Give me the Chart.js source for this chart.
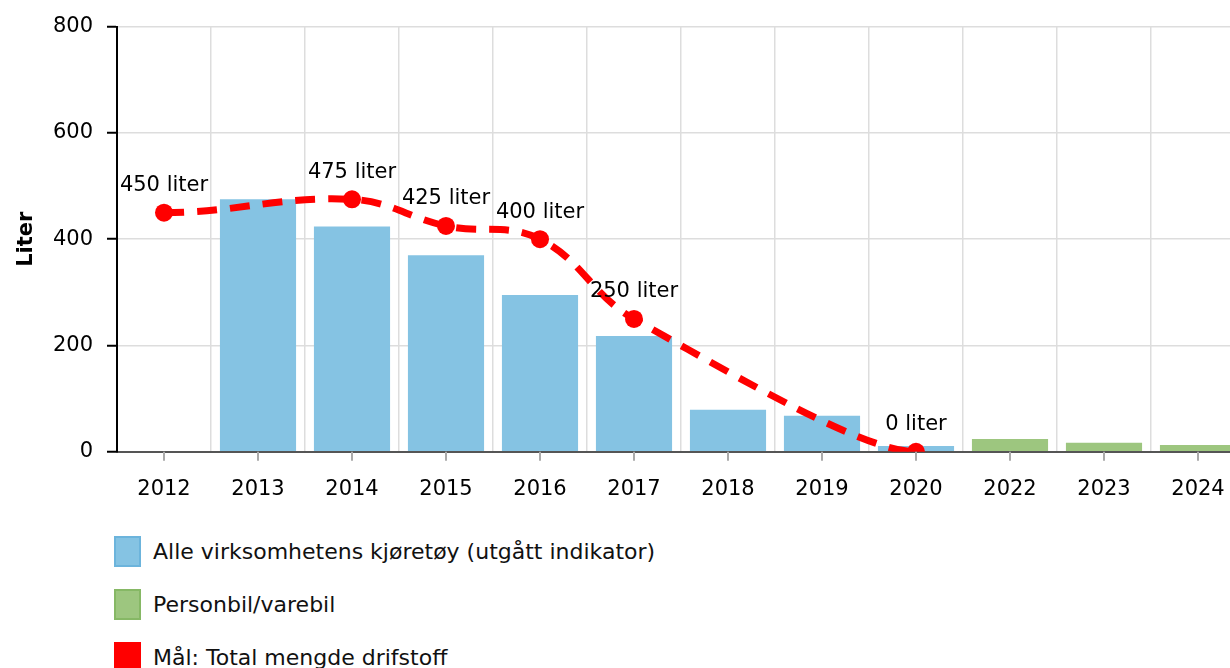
<!DOCTYPE html>
<html>
<head>
    <meta charset="utf-8">
    <script src="https://cdn.jsdelivr.net/npm/chart.js@4.4.1/dist/chart.umd.min.js"></script>
    <style>
        body { margin: 0; background: #fff; font-family: "DejaVu Sans", Verdana, sans-serif; }
        #wrap { position: relative; width: 1230px; height: 668px; overflow: hidden; }
        #chart-box { position: absolute; left: 0; top: 0; width: 1254px; height: 527px; }
        #legend { position: absolute; left: 114px; top: 536px; list-style: none; margin: 0; padding: 0; }
        #legend li { display: flex; align-items: center; height: 31px; margin-bottom: 22px; font-size: 22px; color: #111; }
        #legend .box { width: 23px; height: 27px; margin-right: 12px; border: 2px solid; }
    </style>
</head>
<body>
<div id="wrap">
    <div id="chart-box"><canvas id="c"></canvas></div>
    <ul id="legend"></ul>
</div>
<script>
    const years = ["2012", "2013", "2014", "2015", "2016", "2017", "2018", "2019", "2020", "2022", "2023", "2024"];
    const alleKjoretoy = [null, 475, 424, 370, 295, 218, 79, 68, 11, null, null, null];
    const personbil = [null, null, null, null, null, null, null, null, null, 24, 17, 13];
    const maal = [450, null, 475, 425, 400, 250, null, null, 0, null, null, null];
    const yTicks = [0, 200, 400, 600, 800];

    const blue = '#85c3e3', blueEdge = '#6cb4dc';
    const green = '#9dc67f', greenEdge = '#86b865';
    const red = '#ff0000';

    // etiketter over målpunktene
    const pointLabels = {
        id: 'pointLabels',
        afterDatasetsDraw(chart) {
            const ctx = chart.ctx;
            const meta = chart.getDatasetMeta(2);
            ctx.save();
            ctx.font = '21px "DejaVu Sans"';
            ctx.fillStyle = '#000';
            ctx.textAlign = 'center';
            ctx.textBaseline = 'middle';
            meta.data.forEach((pt, i) => {
                if (maal[i] === null) return;
                ctx.fillText(maal[i] + ' liter', pt.x, pt.y - 27);
            });
            ctx.restore();
        }
    };

    // flat tangent i start- og sluttpunkt på mållinjen
    const flatEnds = {
        id: 'flatEnds',
        beforeDatasetDraw(chart, args) {
            if (args.index !== 2) return;
            const line = args.meta.dataset;
            line.updateControlPoints(chart.chartArea, 'x');
            const pts = args.meta.data.filter(p => !p.skip);
            if (pts.length < 2) return;
            const first = pts[0], last = pts[pts.length - 1];
            first.cp2y = first.y;
            last.cp1y = last.y;
            last.cp1x = last.x - (last.x - last.cp1x) * 0.45;
            line._path = undefined;
        }
    };

    // små streker under x-aksen midt i hver kategori
    const xTickMarks = {
        id: 'xTickMarks',
        afterDraw(chart) {
            const ctx = chart.ctx, x = chart.scales.x, bottom = chart.chartArea.bottom;
            ctx.save();
            ctx.strokeStyle = '#aaa';
            ctx.lineWidth = 2;
            years.forEach((y, i) => {
                const px = Math.round(x.getPixelForValue(i));
                ctx.beginPath();
                ctx.moveTo(px, bottom);
                ctx.lineTo(px, bottom + 9);
                ctx.stroke();
            });
            ctx.restore();
        }
    };

    new Chart(document.getElementById('c'), {
        type: 'bar',
        data: {
            labels: years,
            datasets: [
                { label: 'Alle virksomhetens kjøretøy (utgått indikator)', data: alleKjoretoy, backgroundColor: blue, borderWidth: 0, categoryPercentage: 1, barPercentage: 0.81, order: 2 },
                { label: 'Personbil/varebil', data: personbil, backgroundColor: green, borderWidth: 0, categoryPercentage: 1, barPercentage: 0.81, order: 2 },
                {
                    type: 'line', label: 'Mål: Total mengde drifstoff', data: maal,
                    borderColor: red, backgroundColor: red, borderWidth: 7, borderDash: [20, 13],
                    pointRadius: 9, pointHoverRadius: 9, pointBackgroundColor: red, pointBorderWidth: 0,
                    spanGaps: true, tension: 0.4, order: 1
                }
            ]
        },
        options: {
            responsive: true,
            maintainAspectRatio: false,
            animation: false,
            layout: { padding: { top: 13, right: 0, left: 0, bottom: 0 } },
            plugins: { legend: { display: false }, tooltip: { enabled: false } },
            scales: {
                x: {
                    stacked: true,
                    grid: { color: '#dddddd', lineWidth: 1.5, offset: true, drawTicks: false },
                    border: { color: '#555', width: 2 },
                    ticks: { color: '#000', font: { size: 21, family: 'DejaVu Sans' }, padding: 25 }
                },
                y: {
                    min: 0, max: 800,
                    afterBuildTicks(s) { s.ticks = yTicks.map(v => ({ value: v })); },
                    afterFit(s) { s.width = 117; },
                    grid: { color: '#dddddd', lineWidth: 1.5, tickColor: '#000', tickLength: 10, tickWidth: 2 },
                    border: { color: '#000', width: 2 },
                    ticks: { color: '#000', font: { size: 21, family: 'DejaVu Sans' }, padding: 14 },
                    title: { display: true, text: 'Liter', color: '#000', font: { size: 21, weight: 'bold', family: 'DejaVu Sans' }, padding: { top: 14, bottom: 0 } }
                }
            }
        },
        plugins: [flatEnds, pointLabels, xTickMarks]
    });

    const legendItems = [
        { text: 'Alle virksomhetens kjøretøy (utgått indikator)', fill: blue, edge: blueEdge },
        { text: 'Personbil/varebil', fill: green, edge: greenEdge },
        { text: 'Mål: Total mengde drifstoff', fill: red, edge: red }
    ];
    const ul = document.getElementById('legend');
    legendItems.forEach(it => {
        const li = document.createElement('li');
        li.innerHTML = `<span class="box" style="background:${it.fill};border-color:${it.edge}"></span>${it.text}`;
        ul.appendChild(li);
    });
</script>
</body>
</html>
